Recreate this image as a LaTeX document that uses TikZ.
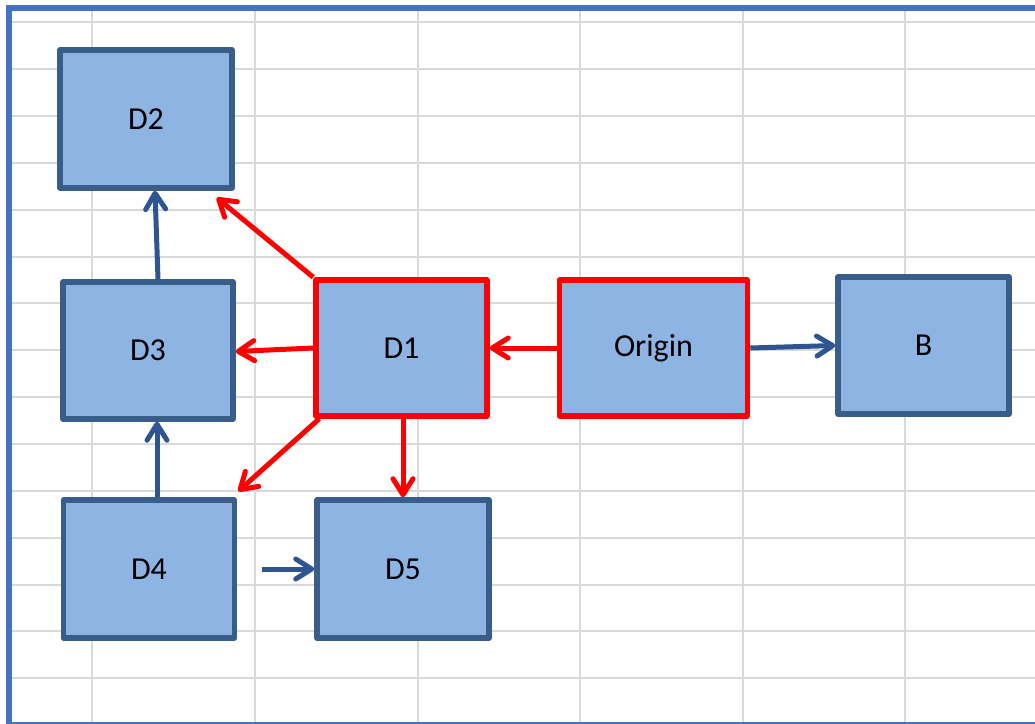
\documentclass[tikz,border=0pt]{standalone}
\usepackage{fontspec}
\setmainfont{Carlito}
\usetikzlibrary{arrows.meta,calc}
\definecolor{boxfill}{HTML}{8EB4E3}
\definecolor{boxline}{HTML}{385D8A}
\definecolor{flowblue}{HTML}{2F5590}
\definecolor{flowred}{HTML}{FF0000}
\definecolor{frameblue}{HTML}{4472C4}
\definecolor{gridgray}{HTML}{D9D9D9}

\begin{document}
\begin{tikzpicture}[x=1pt,y=-1pt,
  cell/.style={draw=boxline, fill=boxfill, line width=5.5pt, line join=round,
    minimum width=172pt, minimum height=138pt, inner sep=0pt,
    font=\fontsize{32}{38}\selectfont},
  hot/.style={cell, draw=flowred},
  bluearrow/.style={draw=flowblue, line width=5pt,
    -{Straight Barb[length=16pt,width=20pt,round]}},
  redarrow/.style={bluearrow, draw=flowred}]
\useasboundingbox (0,0) rectangle (1035,723);

% sheet background, cell grid and frame
\begin{scope}
  \clip (0,0) rectangle (1035,723);
  \fill[white] (0,0) rectangle (1035,723);
  \foreach \gx in {92,255,418,580,743,905}
    \draw[gridgray, line width=2pt] (\gx,11) -- (\gx,723);
  \foreach \k in {0,...,14}
    \draw[gridgray, line width=2pt] (12,{22.3+46.86*\k}) -- (1035,{22.3+46.86*\k});
  \draw[frameblue, line width=6pt] (9,8) rectangle (1060,725);
\end{scope}

% boxes
\node[cell] (D2) at (146,119) {D2};
\node[cell, minimum width=170pt, minimum height=137pt] (D3) at (148,350.5) {D3};
\node[hot, minimum width=171pt, minimum height=136pt] (D1) at (401.5,348) {D1};
\node[hot, minimum width=188pt, minimum height=136pt] (Origin) at (653.5,348) {Origin};
\node[cell, minimum width=171pt, minimum height=137pt] (B) at (923.5,345.5) {B};
\node[cell, minimum width=171pt] (D4) at (149,569) {D4};
\node[cell] (D5) at (403,569) {D5};

% blue connectors
\draw[bluearrow] ($(D3.north)+(10,0)$) -- ($(D2.south)+(9,0)$);
\draw[bluearrow] ($(D4.north)+(8,0)$) -- ($(D3.south)+(9,0)$);
\draw[bluearrow, shorten <=25pt] (D4.east) -- (D5.west);
\draw[bluearrow] (Origin.east) -- (B.west);

% red connectors
\draw[redarrow] (Origin.west) -- (D1.east);
\draw[redarrow] (D1.west) -- ($(D3.east)+(0,1)$);
\draw[redarrow] (D1.north west) -- ($(D2.south east)+(-18,7)$);
\draw[redarrow] ($(D1.south west)+(6,0)$) -- ($(D4.north east)+(1,-6)$);
\draw[redarrow] ($(D1.south)+(1.5,0)$) -- (D5.north);
\end{tikzpicture}
\end{document}
